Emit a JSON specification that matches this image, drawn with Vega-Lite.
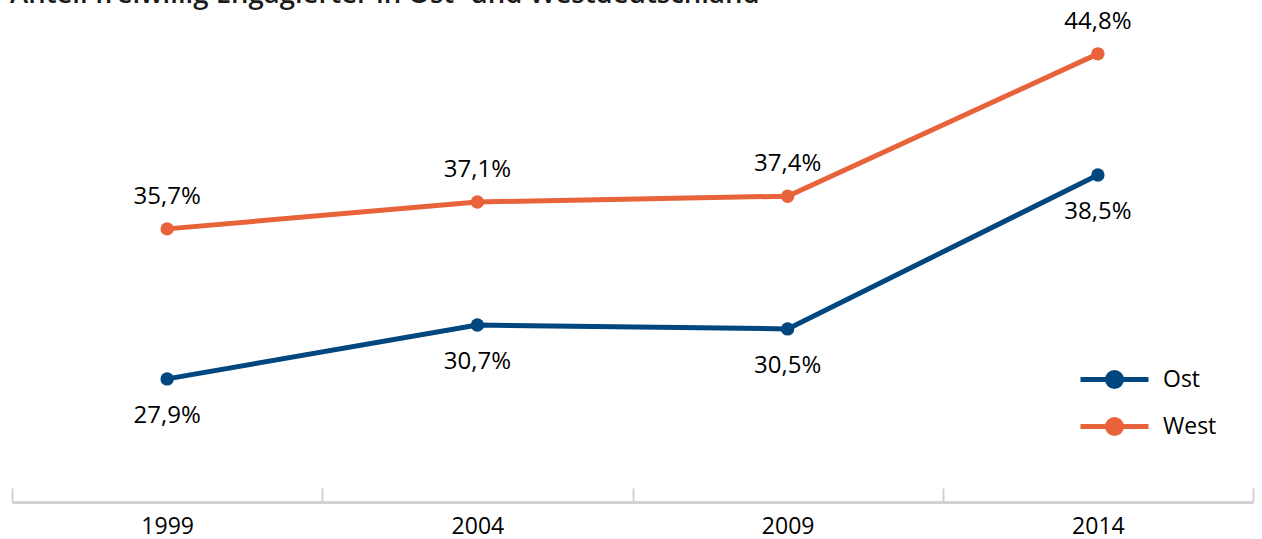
{
  "$schema": "https://vega.github.io/schema/vega-lite/v6.json",
  "autosize": {"type": "none"},
  "width": 1241,
  "height": 502,
  "padding": {"left": 12, "top": 0, "right": 9, "bottom": 37},
  "title": {
    "text": "Anteil freiwillig Engagierter in Ost- und Westdeutschland",
    "anchor": "start",
    "frame": "group",
    "orient": "top",
    "offset": 0,
    "baseline": "alphabetic",
    "dy": 30,
    "dx": -2,
    "font": "Open Sans",
    "fontSize": 27.5,
    "fontWeight": 600,
    "color": "#1a1a1a"
  },
  "data": {
    "values": [
      {"year": "1999", "region": "Ost", "value": 27.9},
      {"year": "2004", "region": "Ost", "value": 30.7},
      {"year": "2009", "region": "Ost", "value": 30.5},
      {"year": "2014", "region": "Ost", "value": 38.5},
      {"year": "1999", "region": "West", "value": 35.7},
      {"year": "2004", "region": "West", "value": 37.1},
      {"year": "2009", "region": "West", "value": 37.4},
      {"year": "2014", "region": "West", "value": 44.8}
    ]
  },
  "transform": [
    {"calculate": "replace(format(datum.value, '.1f'), '.', ',') + '%'", "as": "label"}
  ],
  "encoding": {
    "x": {
      "field": "year",
      "type": "nominal",
      "scale": {"type": "band", "paddingInner": 0, "paddingOuter": 0},
      "axis": {
        "title": null,
        "labelAngle": 0,
        "labelFont": "Open Sans",
        "labelFontSize": 23,
        "labelColor": "#000000",
        "labelPadding": 27,
        "tickBand": "extent",
        "tickSize": -14,
        "tickWidth": 2,
        "tickColor": "#cfd3d6",
        "domainColor": "#cfd3d6",
        "domainWidth": 3,
        "grid": false
      }
    },
    "y": {
      "field": "value",
      "type": "quantitative",
      "scale": {"domain": [21.5, 47.6], "zero": false, "nice": false},
      "axis": null
    },
    "color": {
      "field": "region",
      "type": "nominal",
      "scale": {"domain": ["Ost", "West"], "range": ["#00467f", "#e8633a"]},
      "legend": {
        "title": null,
        "orient": "none",
        "legendX": 1090,
        "legendY": 367,
        "padding": 0,
        "symbolType": "M-3.4,0H3.4M0.7,0A0.7,0.7,0,1,1,-0.7,0A0.7,0.7,0,1,1,0.7,0Z",
        "symbolSize": 400,
        "symbolStrokeWidth": 5,
        "labelFont": "Open Sans",
        "labelFontSize": 23,
        "labelColor": "#000000",
        "labelOffset": 36,
        "rowPadding": 12,
        "encode": {
          "symbols": {
            "update": {
              "fill": {"scale": "color", "field": "value"},
              "stroke": {"scale": "color", "field": "value"},
              "strokeWidth": {"value": 5},
              "opacity": {"value": 1}
            }
          }
        }
      }
    }
  },
  "layer": [
    {"mark": {"type": "line", "strokeWidth": 5}},
    {"mark": {"type": "point", "filled": true, "size": 180, "opacity": 1}},
    {
      "transform": [{"filter": "datum.region === 'West'"}],
      "mark": {"type": "text", "dy": -32, "font": "Open Sans", "fontSize": 24, "color": "#000000"},
      "encoding": {"text": {"field": "label"}, "color": {"value": "#000000"}}
    },
    {
      "transform": [{"filter": "datum.region === 'Ost'"}],
      "mark": {"type": "text", "dy": 37, "font": "Open Sans", "fontSize": 24, "color": "#000000"},
      "encoding": {"text": {"field": "label"}, "color": {"value": "#000000"}}
    }
  ],
  "config": {"view": {"stroke": null}}
}
